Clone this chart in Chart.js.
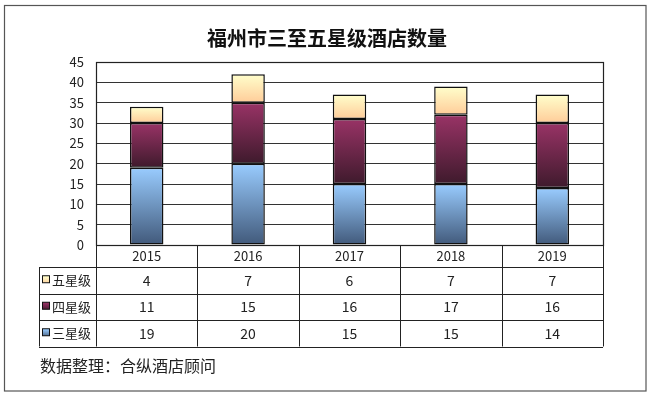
<!DOCTYPE html>
<html><head><meta charset="utf-8">
<script src="https://cdn.jsdelivr.net/npm/chart.js@4.4.1/dist/chart.umd.min.js"></script>
<style>html,body{margin:0;padding:0;background:#fff}#wrap{width:652px;height:396px;position:relative}</style>
</head><body><div id="wrap"><canvas id="c" width="652" height="396"></canvas></div>
<script>
const categories = ['2015','2016','2017','2018','2019'];
const threeStar = [19,20,15,15,14];
const fourStar = [11,15,16,17,16];
const fiveStar = [4,7,6,7,7];
const seriesNames = ['三星级','四星级','五星级'];
const yMin = 0, yMax = 45, yStep = 5;
const titleText = '福州市三至五星级酒店数量';
const sourceText = '数据整理：合纵酒店顾问';

const FONT = "'Noto Sans CJK SC','Noto Sans',sans-serif";
const gradStops = [
  ['#99CCFF','#41597A'],
  ['#993366','#3E1A2C'],
  ['#FFFFCC','#FFCC99']
];
const allSeries = [threeStar, fourStar, fiveStar];

function barGradient(dsIndex){
  return function(ctx){
    const chart = ctx.chart;
    const y = chart.scales.y;
    if(!chart.chartArea || !y || ctx.dataIndex === undefined) return gradStops[dsIndex][0];
    let base = 0;
    for(let k=0;k<dsIndex;k++) base += allSeries[k][ctx.dataIndex];
    const top = base + allSeries[dsIndex][ctx.dataIndex];
    const y0 = y.getPixelForValue(top), y1 = y.getPixelForValue(base);
    if(!isFinite(y0) || !isFinite(y1) || y0===y1) return gradStops[dsIndex][0];
    const g = chart.ctx.createLinearGradient(0,y0,0,y1);
    g.addColorStop(0,gradStops[dsIndex][0]);
    g.addColorStop(1,gradStops[dsIndex][1]);
    return g;
  };
}

const tablePlugin = {
  id:'tablePlugin',
  afterDraw(chart){
    const c = chart.ctx, a = chart.chartArea, x = chart.scales.x;
    const n = categories.length;
    const cw = (a.right - a.left)/n;
    const top = a.bottom, r0 = 267, rh = 26.5;
    const rows = [[fiveStar,'五星级',2],[fourStar,'四星级',1],[threeStar,'三星级',0]];
    const bottom = r0 + rh*rows.length;
    const legendLeft = 39;
    c.save();
    // outer frame
    c.strokeStyle = '#555'; c.lineWidth = 1.2;
    c.strokeRect(4.5,5.5,641.5,385.5);
    // title
    c.fillStyle = '#111';
    c.font = 'bold 20px ' + FONT;
    c.textAlign = 'center'; c.textBaseline = 'middle';
    c.fillText(titleText, 327, 38.5);
    // plot frame
    c.strokeStyle = '#222'; c.lineWidth = 1.2;
    c.strokeRect(a.left+0.5, a.top+0.5, a.right-a.left, a.bottom-a.top);
    // table lines
    c.strokeStyle = '#222'; c.lineWidth = 1;
    c.beginPath();
    for(let i=0;i<=n;i++){
      const xx = Math.round(a.left + i*cw)+0.5;
      c.moveTo(xx, top); c.lineTo(xx, bottom);
    }
    c.moveTo(legendLeft+0.5, r0); c.lineTo(legendLeft+0.5, bottom);
    for(let r=0;r<=rows.length;r++){
      const yy = Math.round(r0 + r*rh)+0.5;
      c.moveTo(legendLeft, yy); c.lineTo(a.right, yy);
    }
    c.stroke();
    // cells
    c.fillStyle = '#222';
    c.font = '13px ' + FONT;
    c.textBaseline = 'middle';
    rows.forEach((row, r)=>{
      const cy = r0 + r*rh + rh/2;
      const g = c.createLinearGradient(0,cy-4,0,cy+4);
      g.addColorStop(0,gradStops[row[2]][0]); g.addColorStop(1,gradStops[row[2]][1]);
      c.fillStyle = g;
      c.fillRect(42.5, cy-4.5, 7, 7);
      c.strokeStyle = '#111'; c.lineWidth = 1;
      c.strokeRect(42.5, cy-4.5, 7, 7);
      c.fillStyle = '#222';
      c.font = '13px ' + FONT;
      c.textAlign = 'left';
      c.fillText(row[1], 52, cy);
      c.textAlign = 'center';
      c.font = '14px ' + FONT;
      row[0].forEach((v,i)=>{
        c.fillText(String(v), x.getPixelForValue(i), cy);
      });
    });
    // source
    c.textAlign = 'left';
    c.font = '16px ' + FONT;
    c.fillStyle = '#222';
    c.fillText(sourceText, 40, 366);
    c.restore();
  }
};

new Chart(document.getElementById('c'), {
  type:'bar',
  data:{
    labels:categories,
    datasets:[0,1,2].map(i=>({
      label:seriesNames[i],
      data:allSeries[i],
      backgroundColor:barGradient(i),
      borderColor:'#111',
      borderWidth:1.5,
      borderSkipped:false,
      barPercentage:0.33,
      categoryPercentage:1.0
    }))
  },
  options:{
    responsive:false,
    animation:false,
    devicePixelRatio:1,
    layout:{padding:{left:0,right:49,top:62,bottom:0}},
    plugins:{
      legend:{display:false},
      tooltip:{enabled:false},
      title:{display:false}
    },
    scales:{
      x:{
        stacked:true,
        grid:{display:false},
        border:{display:true,color:'#222',width:1},
        ticks:{color:'#222',font:{family:FONT,size:13},padding:-5,maxRotation:0},
        afterFit(s){ s.height = 151; }
      },
      y:{
        stacked:true,
        min:yMin,max:yMax,
        ticks:{stepSize:yStep,color:'#222',font:{family:FONT,size:13},padding:12},
        grid:{color:'#333',lineWidth:1,drawTicks:false},
        border:{display:true,color:'#222',width:1},
        afterFit(s){ s.width = 96; }
      }
    }
  },
  plugins:[tablePlugin]
});
</script>
</body></html>
